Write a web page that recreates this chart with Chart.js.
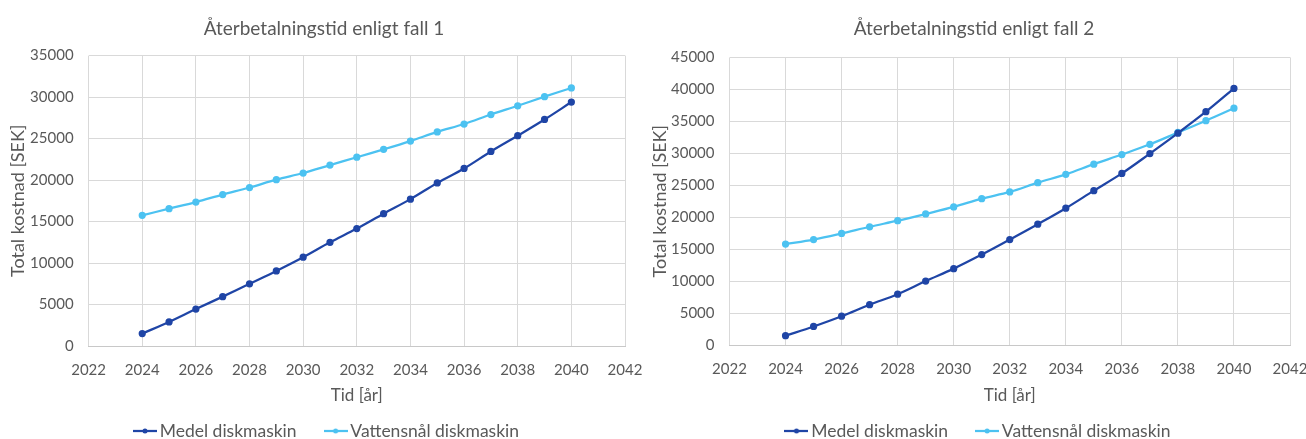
<!DOCTYPE html>
<html lang="sv">
<head>
<meta charset="UTF-8">
<title>Återbetalningstid</title>
<script src="https://cdn.jsdelivr.net/npm/chart.js"></script>
<style>
  body { margin: 0; background: #fff; width: 1306px; height: 439px; position: relative; overflow: hidden; }
  .box { position: absolute; top: 0; height: 439px; }
  #left { left: 0; width: 653px; }
  #right { left: 645px; width: 661px; }
</style>
</head>
<body>
<div class="box" id="left"><canvas id="chart1"></canvas></div>
<div class="box" id="right"><canvas id="chart2"></canvas></div>

<script>
// data
const years = [2024, 2025, 2026, 2027, 2028, 2029, 2030, 2031, 2032, 2033, 2034, 2035, 2036, 2037, 2038, 2039, 2040];

const medelFall1 = [1500, 2900, 4450, 5950, 7500, 9050, 10700, 12500, 14150, 15950, 17700, 19650, 21400, 23450, 25350, 27300, 29400];
const vattenFall1 = [15750, 16550, 17350, 18250, 19100, 20050, 20850, 21800, 22750, 23700, 24700, 25800, 26750, 27900, 28950, 30050, 31100];

const medelFall2 = [1450, 2900, 4500, 6300, 7950, 10000, 11950, 14150, 16500, 18900, 21400, 24150, 26850, 29950, 33150, 36500, 40150];
const vattenFall2 = [15800, 16500, 17450, 18500, 19450, 20500, 21600, 22900, 23950, 25400, 26700, 28300, 29800, 31400, 33250, 35100, 37050];

const seriesNames = ['Medel diskmaskin', 'Vattensnål diskmaskin'];
const xMin = 2022, xMax = 2042, xStep = 2;
const yStep = 5000;

const darkBlue = '#1f45a6';
const lightBlue = '#4cc2f1';
const textGrey = '#595959';
const gridGrey = '#d9d9d9';
const fontFamily = 'Lato, "Open Sans", sans-serif';

// small line + dot used as legend symbol
function legendMarker(color) {
    const c = document.createElement('canvas');
    c.width = 24;
    c.height = 8;
    const ctx = c.getContext('2d');
    ctx.strokeStyle = color;
    ctx.lineWidth = 2.25;
    ctx.beginPath();
    ctx.moveTo(0, 4);
    ctx.lineTo(24, 4);
    ctx.stroke();
    ctx.fillStyle = color;
    ctx.beginPath();
    ctx.arc(12, 4, 2.5, 0, Math.PI * 2);
    ctx.fill();
    return c;
}
const markers = [legendMarker(darkBlue), legendMarker(lightBlue)];

// nudge title and legend sideways after layout (Excel centres them a bit differently)
const nudge = {
    id: 'nudge',
    afterLayout(chart, args, opts) {
        if (chart.titleBlock) {
            chart.titleBlock.left += opts.title;
            chart.titleBlock.right += opts.title;
        }
        if (chart.legend) {
            chart.legend.left += opts.legend;
            chart.legend.right += opts.legend;
        }
    }
};

function makeChart(id, title, medel, vatten, yMax, box) {
    const series = [medel, vatten];
    const colors = [darkBlue, lightBlue];
    return new Chart(document.getElementById(id), {
        type: 'line',
        data: {
            datasets: series.map((vals, i) => ({
                label: seriesNames[i],
                data: years.map((y, j) => ({ x: y, y: vals[j] })),
                borderColor: colors[i],
                backgroundColor: colors[i],
                borderWidth: 2.25,
                pointRadius: 2.5,
                pointHoverRadius: 3,
                tension: 0.35
            }))
        },
        plugins: [nudge],
        options: {
            responsive: true,
            maintainAspectRatio: false,
            animation: false,
            layout: { padding: { left: 0, right: box.padRight, top: 0, bottom: -10.75 } },
            plugins: {
                nudge: { title: box.titleShift, legend: box.legendShift },
                title: {
                    display: true,
                    text: title,
                    color: textGrey,
                    font: { family: fontFamily, size: 19, weight: 'normal' },
                    padding: { top: 17.8, bottom: box.titleBottom }
                },
                legend: {
                    position: 'bottom',
                    labels: {
                        usePointStyle: true,
                        pointStyleWidth: 12,
                        boxHeight: 8,
                        padding: 33,
                        color: textGrey,
                        font: { family: fontFamily, size: 17.5 },
                        generateLabels(chart) {
                            const items = Chart.defaults.plugins.legend.labels.generateLabels(chart);
                            items.forEach((it, i) => { it.pointStyle = markers[i]; });
                            return items;
                        }
                    }
                },
                tooltip: { enabled: false }
            },
            scales: {
                x: {
                    type: 'linear',
                    min: xMin,
                    max: xMax,
                    ticks: {
                        stepSize: xStep,
                        padding: 15,
                        color: textGrey,
                        font: { family: fontFamily, size: 15 },
                        callback: v => String(v)
                    },
                    grid: { color: gridGrey, drawTicks: false },
                    border: { color: '#c8c8c8' },
                    title: {
                        display: true,
                        text: 'Tid [år]',
                        color: textGrey,
                        font: { family: fontFamily, size: 17 },
                        padding: { top: 0, bottom: -16 }
                    },
                    afterFit(scale) {
                        scale.height = box.xHeight;
                        // let the outer labels run to the edge, as in the original
                        scale.paddingLeft = 0;
                        scale.paddingRight = 0;
                    }
                },
                y: {
                    min: 0,
                    max: yMax,
                    ticks: {
                        stepSize: yStep,
                        padding: 15,
                        color: textGrey,
                        font: { family: fontFamily, size: 15 },
                        callback: v => String(v)
                    },
                    grid: { color: gridGrey, drawTicks: false },
                    border: { display: false },
                    title: {
                        display: true,
                        text: 'Total kostnad [SEK]',
                        color: textGrey,
                        font: { family: fontFamily, size: 18 },
                        padding: { top: box.yTitlePad, bottom: 0 }
                    },
                    afterFit(scale) { scale.width = box.yWidth; }
                }
            }
        }
    });
}

makeChart('chart1', 'Återbetalningstid enligt fall 1', medelFall1, vattenFall1, 35000,
    { padRight: 28, titleBottom: 15, xHeight: 43.25, yWidth: 88.6, yTitlePad: 7.7, titleShift: 11.5, legendShift: 16.5 });
makeChart('chart2', 'Återbetalningstid enligt fall 2', medelFall2, vattenFall2, 45000,
    { padRight: 16, titleBottom: 16.8, xHeight: 44.25, yWidth: 84.5, yTitlePad: 4.2, titleShift: 6.5, legendShift: 13 });
</script>
</body>
</html>
